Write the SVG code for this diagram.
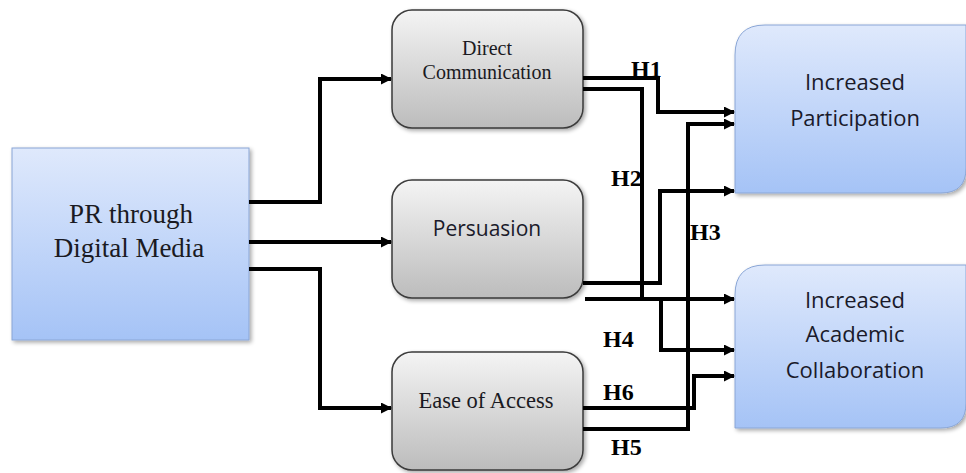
<svg xmlns="http://www.w3.org/2000/svg" width="966" height="473" viewBox="0 0 966 473">
<defs>
<linearGradient id="blue" x1="0" y1="0" x2="0" y2="1">
<stop offset="0" stop-color="#dfe9fc"/>
<stop offset="1" stop-color="#a5c3f6"/>
</linearGradient>
<linearGradient id="gray" x1="0" y1="0" x2="0" y2="1">
<stop offset="0" stop-color="#f4f4f4"/>
<stop offset="1" stop-color="#bcbcbc"/>
</linearGradient>
<filter id="sh" x="-10%" y="-10%" width="130%" height="130%">
<feGaussianBlur in="SourceAlpha" stdDeviation="2"/>
<feOffset dx="2" dy="2"/>
<feComponentTransfer><feFuncA type="linear" slope="0.35"/></feComponentTransfer>
<feMerge><feMergeNode/><feMergeNode in="SourceGraphic"/></feMerge>
</filter>
<marker id="ar" markerWidth="11" markerHeight="11" refX="10" refY="5.5" orient="auto" markerUnits="userSpaceOnUse">
<path d="M0,0 L11,5.5 L0,11 Z" fill="#000"/>
</marker>
<style>
.bbox{fill:url(#blue);stroke:#8aa6d6;stroke-width:1}
.gbox{fill:url(#gray);stroke:#3a3a3a;stroke-width:1.5}
.serif{font-family:"Liberation Serif","Times New Roman",serif;fill:#1a1a22;text-anchor:middle}
.sans{font-family:"Open Sans","Liberation Sans",sans-serif;fill:#1a1a2a;text-anchor:middle}
.lbl{font-family:"Liberation Serif","Times New Roman",serif;font-weight:bold;font-size:24px;fill:#000}
.ca{fill:none;stroke:#000;stroke-width:4;marker-end:url(#ar)}
</style>
</defs>
<rect width="966" height="473" fill="#fff"/>

<g id="pr">
<rect class="bbox" x="12" y="148" width="237" height="192" filter="url(#sh)"/>
<text class="serif" x="131" y="223" font-size="27">PR through</text>
<text class="serif" x="129" y="257" font-size="27">Digital Media</text>
</g>

<g id="direct">
<rect class="gbox" x="392" y="10" width="191" height="118" rx="20" filter="url(#sh)"/>
<text class="serif" x="487" y="55" font-size="20">Direct</text>
<text class="serif" x="487" y="79" font-size="20">Communication</text>
</g>

<g id="persuasion">
<rect class="gbox" x="392" y="180" width="191" height="118" rx="20" filter="url(#sh)"/>
<text class="sans" x="487" y="236" font-size="21">Persuasion</text>
</g>

<g id="ease">
<rect class="gbox" x="392" y="352" width="191" height="118" rx="20" filter="url(#sh)"/>
<text class="serif" x="486" y="408" font-size="22.5">Ease of Access</text>
</g>

<g id="participation">
<path class="bbox" d="M735,193 L735,55 Q735,25 765,25 L966,25 L966,168 Q966,193 941,193 Z" filter="url(#sh)"/>
<text class="sans" x="855" y="90" font-size="22">Increased</text>
<text class="sans" x="855" y="126" font-size="22">Participation</text>
</g>

<g id="collaboration">
<path class="bbox" d="M735,428 L735,295 Q735,265 765,265 L966,265 L966,403 Q966,428 941,428 Z" filter="url(#sh)"/>
<text class="sans" x="855" y="308" font-size="22">Increased</text>
<text class="sans" x="855" y="342" font-size="22">Academic</text>
<text class="sans" x="855" y="378" font-size="22">Collaboration</text>
</g>

<g id="connectors">
<path class="ca" d="M249,202 H320 V79 H391"/>
<path class="ca" d="M249,242 H391"/>
<path class="ca" d="M249,269 H320 V408 H391"/>
<path class="ca" d="M583,78 H658 V112 H734"/>
<path class="ca" d="M583,89 H642 V299 H661 V350 H734"/>
<path class="ca" d="M583,283 H660 V191 H734"/>
<path class="ca" d="M585,299 H734"/>
<path class="ca" d="M583,429 H688 V124 H734"/>
<path class="ca" d="M583,408 H694 V376 H734"/>
</g>

<g id="labels">
<text class="lbl" x="631" y="77">H1</text>
<text class="lbl" x="611" y="186">H2</text>
<text class="lbl" x="690" y="240">H3</text>
<text class="lbl" x="603" y="347">H4</text>
<text class="lbl" x="603" y="400">H6</text>
<text class="lbl" x="611" y="455">H5</text>
</g>
</svg>
